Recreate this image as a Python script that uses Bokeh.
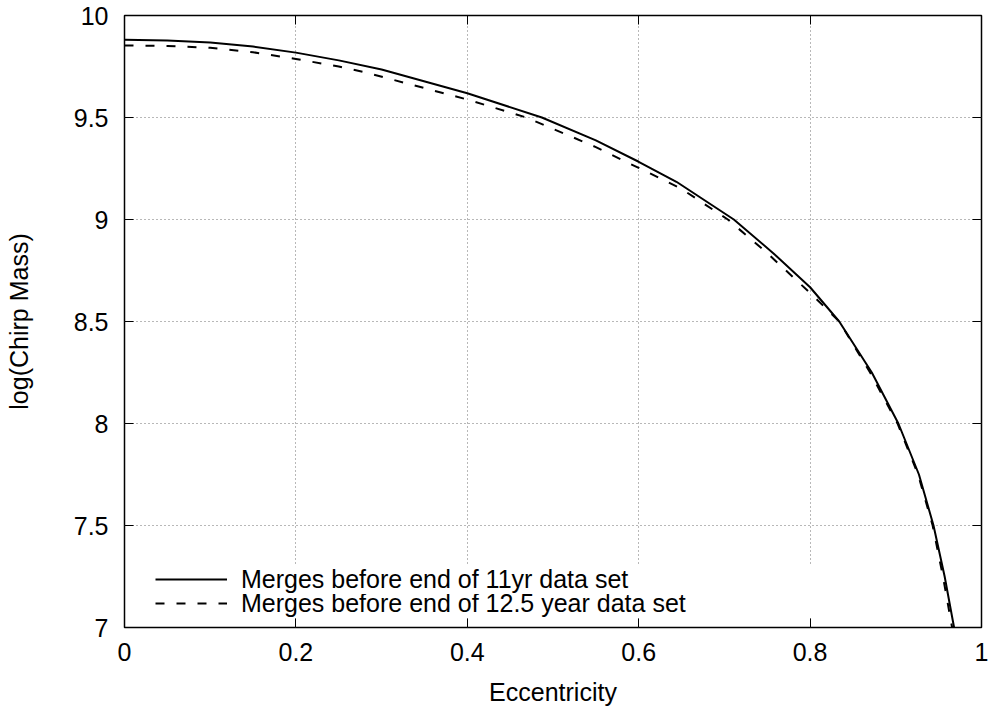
from bokeh.plotting import figure
from bokeh.models import LinearAxis, Range1d, FixedTicker, Legend, LegendItem
from bokeh.embed import file_html
from bokeh.resources import INLINE

# Series 1: merges before end of 11yr data set
ecc_11yr = [0.0, 0.05, 0.1, 0.15, 0.2, 0.25, 0.3, 0.4, 0.487, 0.55, 0.6, 0.644,
            0.711, 0.757, 0.8, 0.834, 0.872, 0.903, 0.927, 0.944, 0.957, 0.968]
logm_11yr = [9.881, 9.878, 9.868, 9.848, 9.818, 9.780, 9.735, 9.619, 9.5, 9.388,
             9.283, 9.185, 9.0, 8.835, 8.668, 8.5, 8.25, 8.0, 7.75, 7.5, 7.25, 7.0]

# Series 2: merges before end of 12.5 year data set
ecc_12yr = [0.0, 0.05, 0.1, 0.15, 0.2, 0.25, 0.283, 0.4, 0.469, 0.55, 0.586, 0.6,
            0.65, 0.704, 0.75, 0.8, 0.834, 0.87, 0.902, 0.926, 0.943, 0.955, 0.9657]
logm_12yr = [9.853, 9.851, 9.842, 9.820, 9.787, 9.750, 9.719, 9.588, 9.5, 9.355,
             9.281, 9.253, 9.15, 9.0, 8.835, 8.64, 8.5, 8.25, 8.0, 7.75, 7.5, 7.25, 7.0]

label_11yr = "Merges before end of 11yr data set"
label_12yr = "Merges before end of 12.5 year data set"

x_ticks = [0, 0.2, 0.4, 0.6, 0.8, 1]
x_tick_labels = ["0", "0.2", "0.4", "0.6", "0.8", "1"]
y_ticks = [7, 7.5, 8, 8.5, 9, 9.5, 10]
y_tick_labels = ["7", "7.5", "8", "8.5", "9", "9.5", "10"]

FONT = "Liberation Sans"
FS = "25px"

p = figure(width=992, height=710, output_backend="svg", toolbar_location=None,
           x_range=Range1d(0, 1), y_range=Range1d(7, 10),
           min_border_left=124, min_border_right=11, min_border_top=15,
           min_border_bottom=83)
p.background_fill_color = "white"
p.border_fill_color = "white"
p.outline_line_color = "black"
p.outline_line_width = 1.5

xt = FixedTicker(ticks=x_ticks, minor_ticks=[])
yt = FixedTicker(ticks=y_ticks, minor_ticks=[])

for ax in p.xaxis:
    ax.ticker = xt
    ax.major_label_overrides = dict(zip(x_ticks, x_tick_labels))
    ax.axis_label = "Eccentricity"
for ax in p.yaxis:
    ax.ticker = yt
    ax.major_label_overrides = dict(zip(y_ticks, y_tick_labels))
    ax.axis_label = "log(Chirp Mass)"

for ax in list(p.xaxis) + list(p.yaxis):
    ax.axis_line_color = None
    ax.major_tick_in = 9
    ax.major_tick_out = 0
    ax.major_tick_line_color = "black"
    ax.major_tick_line_width = 1
    ax.minor_tick_line_color = None
    ax.major_label_text_font = FONT
    ax.major_label_text_font_size = FS
    ax.major_label_text_color = "black"
    ax.axis_label_text_font = FONT
    ax.axis_label_text_font_size = FS
    ax.axis_label_text_font_style = "normal"
    ax.axis_label_text_color = "black"

p.xaxis.major_label_standoff = 15
p.xaxis.axis_label_standoff = 14
p.yaxis.major_label_standoff = 16
p.yaxis.axis_label_standoff = 38

# mirrored ticks on top and right (no labels)
top_ax = LinearAxis(ticker=xt, major_label_overrides={t: "" for t in x_ticks},
                    major_label_text_font_size="0px", major_label_standoff=0,
                    major_tick_in=9, major_tick_out=0, axis_line_color=None,
                    minor_tick_line_color=None)
right_ax = LinearAxis(ticker=yt, major_label_overrides={t: "" for t in y_ticks},
                      major_label_text_font_size="0px", major_label_standoff=0,
                      major_tick_in=9, major_tick_out=0, axis_line_color=None,
                      minor_tick_line_color=None)
p.add_layout(top_ax, "above")
p.add_layout(right_ax, "right")

for g, t in ((p.xgrid, xt), (p.ygrid, yt)):
    g.ticker = t
    g.grid_line_color = "#707070"
    g.grid_line_width = 1
    g.grid_line_dash = "1 3"

r1 = p.line(ecc_11yr, logm_11yr, line_color="black", line_width=2)
r2 = p.line(ecc_12yr, logm_12yr, line_color="black", line_width=2, line_dash="9 12")

common = dict(margin=0, padding=0, spacing=0, glyph_width=72, glyph_height=24,
              label_height=24, label_width=575, label_standoff=14,
              label_text_font=FONT, label_text_font_size=FS,
              label_text_color="black", background_fill_color="white",
              background_fill_alpha=1.0, border_line_alpha=0)

legend_12yr = Legend(items=[LegendItem(label=label_12yr, renderers=[r2])],
                     location=(31, 9.5), **common)
legend_11yr = Legend(items=[LegendItem(label=label_11yr, renderers=[r1])],
                     location=(31, 33.5), **common)
p.add_layout(legend_12yr)
p.add_layout(legend_11yr)

open("out.html", "w").write(file_html(p, INLINE))
